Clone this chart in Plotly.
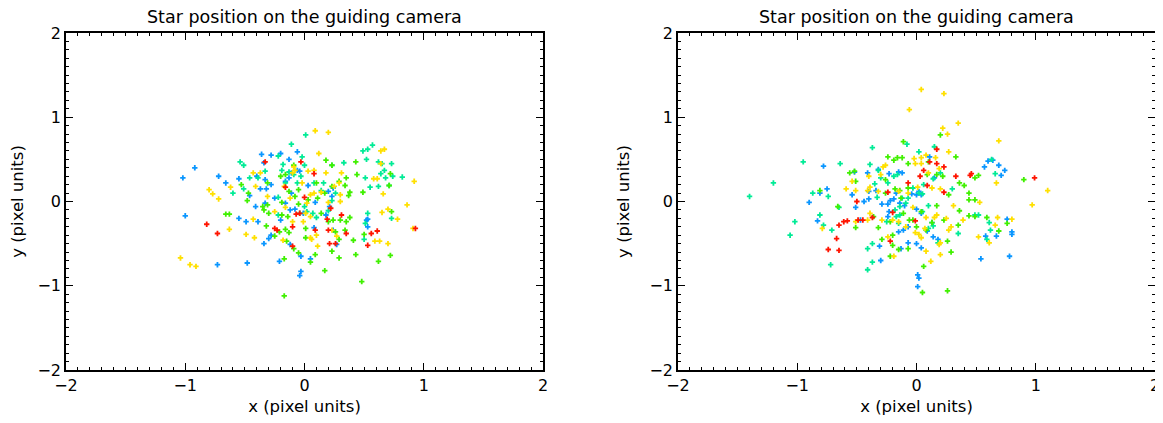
import plotly.graph_objects as go

TITLE = "Star position on the guiding camera"
X_LABEL = "x (pixel units)"
Y_LABEL = "y (pixel units)"
TICK_VALS = [-2, -1, 0, 1, 2]
TICK_TEXT = ["\u22122", "\u22121", "0", "1", "2"]

COLOR_NAMES = ["blue", "teal", "green", "yellow", "red"]
COLORS = {"blue": "#0a96ff", "teal": "#00eb96", "green": "#40f000", "yellow": "#ffe000", "red": "#ff1400"}

# ---------------- left panel ----------------
L_blue_x = [-0.92, -1.02, -1.00, -0.72, -0.66, -0.73, -0.48, -0.36, -0.28, -0.20, -0.13, -0.06, -0.34, -0.40, -0.55,
            -0.46, -0.37, -0.33, -0.32, -0.28, -0.25, -0.33, -0.41, -0.55, -0.49, -0.39, -0.34, -0.30, -0.28, -0.21,
            -0.20, -0.16, -0.16, -0.13, -0.11, -0.06, -0.04, -0.12, -0.08, -0.01, 0.03, -0.03, -0.03, -0.04, 0.05,
            -0.12, 0.08, 0.09, 0.18, 0.20, 0.23, 0.24, 0.21, 0.24, 0.27, 0.52, 0.53, 0.53, -0.11]
L_blue_y = [0.40, 0.28, -0.17, 0.30, 0.22, -0.75, -0.73, 0.56, 0.55, 0.57, 0.50, 0.59, 0.46, 0.30, 0.27,
            0.07, 0.15, 0.26, 0.15, 0.20, 0.04, -0.02, -0.06, -0.20, -0.24, -0.24, -0.50, -0.44, -0.40, -0.71,
            -0.22, -0.02, 0.24, 0.28, 0.34, 0.37, 0.36, -0.10, -0.09, -0.14, 0.19, -0.65, -0.83, -0.88, -0.68,
            -0.51, -0.31, -0.01, -0.16, 0.12, 0.06, 0.16, -0.06, -0.34, -0.51, -0.22, -0.30, -0.21, 0.10]

L_teal_x = [0.01, -0.11, 0.57, 0.53, 0.49, 0.52, 0.62, 0.65, 0.73, 0.67, 0.64, 0.74, 0.82, 0.51, 0.55,
            0.62, 0.71, 0.68, 0.33, 0.23, 0.16, 0.08, 0.26, 0.14, 0.23, -0.54, -0.51, -0.60, -0.51, -0.46,
            -0.39, -0.33, -0.22, -0.18, -0.19, -0.22, -0.13, -0.09, -0.16, -0.06, 0.00, -0.02, -0.03, 0.00, 0.02,
            0.07, 0.10, 0.20, -0.22, 0.53, 0.50, 0.51, 0.73, -0.04]
L_teal_y = [0.79, 0.68, 0.67, 0.62, 0.60, 0.50, 0.47, 0.45, 0.45, 0.37, 0.33, 0.30, 0.29, 0.28, 0.17,
            0.18, 0.19, 0.28, 0.46, 0.43, 0.22, 0.22, 0.10, 0.13, 0.01, 0.47, 0.43, 0.10, 0.15, 0.28,
            0.28, 0.36, 0.54, 0.44, 0.37, 0.05, 0.35, 0.32, 0.22, 0.22, 0.43, 0.53, 0.30, -0.06, -0.12,
            -0.14, -0.19, -0.11, -0.16, -0.14, -0.45, -0.26, -0.20, -0.14]

L_green_x = [0.43, 0.18, 0.23, 0.44, 0.72, 0.71, 0.49, 0.38, 0.37, 0.34, 0.35, 0.29, 0.10, 0.23, 0.17,
             0.03, 0.73, 0.38, 0.35, 0.34, 0.30, 0.24, 0.20, 0.29, 0.41, 0.50, 0.23, 0.29, 0.43, 0.62,
             0.72, 0.48, 0.17, 0.05, 0.09, 0.01, 0.01, -0.17, -0.17, -0.13, -0.16, -0.15, -0.09, -0.05, -0.21,
             -0.25, -0.32, -0.30, -0.34, -0.31, -0.35, -0.66, -0.63, -0.48, -0.47, -0.53, -0.31, -0.16, -0.20, -0.13,
             -0.19, -0.19, -0.14, -0.09, -0.05, -0.05, 0.14, 0.11, 0.26, -0.08]
L_green_y = [0.47, 0.49, 0.43, 0.32, 0.33, 0.19, 0.11, 0.11, 0.07, 0.19, 0.28, 0.24, 0.22, 0.18, 0.10,
             0.02, -0.12, -0.19, -0.24, -0.34, -0.22, -0.22, -0.24, -0.45, -0.46, -0.39, -0.59, -0.67, -0.63, -0.71,
             -0.64, -0.95, -0.82, -0.72, -0.63, -0.43, -0.32, -1.12, -0.68, -0.37, -0.33, -0.47, -0.56, -0.61, -0.36,
             -0.41, -0.29, -0.14, -0.10, -0.04, -0.06, -0.15, -0.15, 0.01, 0.10, 0.20, 0.22, 0.32, 0.30, 0.12,
             -0.01, -0.16, -0.18, 0.43, -0.03, 0.14, -0.14, 0.04, -0.36, 0.06]

L_yellow_x = [0.09, 0.20, 0.12, 0.64, 0.67, 0.64, 0.58, 0.61, 0.92, 0.66, 0.86, 0.91, 0.78, 0.70, 0.65,
              0.59, 0.63, 0.70, -1.04, -0.96, -0.91, -0.80, -0.77, -0.72, -0.62, -0.63, -0.49, -0.42, -0.43, -0.41,
              -0.43, -0.37, -0.31, -0.25, -0.17, -0.12, -0.16, -0.10, -0.09, -0.02, 0.02, 0.05, 0.08, 0.01, 0.05,
              -0.01, 0.05, 0.06, 0.10, 0.11, 0.14, 0.18, 0.25, 0.29, 0.30, 0.30, 0.31, 0.20, 0.27, 0.23,
              -0.18, -0.10, -0.08, 0.03, 0.08]
L_yellow_y = [0.84, 0.82, 0.57, 0.60, 0.62, 0.45, 0.27, 0.27, 0.24, 0.09, -0.04, -0.32, -0.21, -0.09, -0.13,
              -0.47, -0.47, -0.50, -0.67, -0.75, -0.77, 0.14, 0.09, 0.03, 0.17, -0.33, -0.39, -0.43, -0.21, 0.18,
              0.34, 0.34, 0.06, -0.12, 0.18, 0.04, -0.07, 0.34, 0.41, 0.22, -0.02, 0.08, 0.10, -0.14, -0.18,
              -0.24, -0.43, -0.45, -0.40, -0.53, 0.11, 0.34, 0.18, 0.22, 0.08, 0.00, 0.34, -0.01, -0.41, -0.34,
              -0.46, -0.24, 0.37, 0.36, 0.37]

L_red_x = [-0.03, -0.33, 0.08, -0.16, 0.00, 0.22, 0.19, 0.31, 0.20, 0.21, 0.26, 0.35, 0.56, 0.61, 0.53,
           0.93, -0.07, -0.04, -0.10, -0.10, 0.09, -0.23, -0.25, -0.82, -0.73]
L_red_y = [0.47, 0.47, 0.33, 0.17, 0.05, -0.08, -0.21, -0.16, -0.34, -0.50, -0.50, -0.38, -0.38, -0.35, -0.52,
           -0.32, -0.15, -0.14, -0.30, -0.53, -0.34, -0.34, -0.32, -0.27, -0.38]

# ---------------- right panel ----------------
R_blue_x = [-0.78, -0.75, -0.81, -0.90, -0.83, -0.51, -0.54, -0.44, -0.40, -0.40, -0.47, -0.52, -0.41, -0.32, -0.23,
            -0.15, -0.12, -0.17, -0.19, -0.22, -0.24, -0.29, -0.34, -0.14, -0.10, -0.04, 0.00, 0.04, 0.02, 0.11,
            0.15, 0.13, 0.09, 0.14, 0.18, 0.04, 0.00, -0.07, -0.11, -0.15, -0.07, 0.00, 0.04, -0.13, -0.23,
            -0.24, -0.30, -0.31, 0.01, 0.02, 0.01, 0.54, 0.58, 0.67, 0.80, 0.80, 0.76, 0.78, 0.60, 0.57,
            0.69, 0.74, 0.71, 0.64]
R_blue_y = [0.42, 0.15, 0.10, -0.01, -0.23, -0.07, 0.08, 0.00, 0.03, 0.12, -0.22, 0.35, 0.34, 0.38, 0.33,
            0.35, 0.34, 0.10, 0.03, 0.01, -0.03, -0.03, 0.13, -0.02, -0.05, 0.09, 0.08, 0.08, 0.12, 0.53,
            0.28, -0.25, -0.35, -0.42, -0.45, -0.14, -0.09, -0.30, -0.34, -0.36, -0.49, -0.50, -0.55, -0.56, -0.12,
            -0.18, -0.70, -0.53, -0.87, -0.91, -1.01, -0.68, -0.41, -0.41, -0.36, -0.39, -0.21, -0.65, 0.48, 0.41,
            0.43, 0.37, 0.31, 0.49]

R_teal_x = [-0.37, -0.95, -1.20, -1.40, -1.02, -1.06, -0.87, -0.81, -0.78, -0.74, -0.65, -0.64, -0.71, -0.72, -0.39,
            -0.32, -0.35, -0.30, -0.33, -0.37, -0.41, -0.41, -0.37, -0.16, -0.19, -0.08, 0.02, 0.15, 0.20, 0.14,
            -0.12, -0.03, 0.02, 0.06, 0.05, 0.10, -0.07, -0.09, -0.14, -0.18, -0.17, -0.14, -0.15, -0.25, 0.05,
            0.10, 0.14, 0.18, 0.35, 0.30, 0.49, 0.52, 0.61, 0.59, 0.62, 0.63, 0.66, -0.24]
R_teal_y = [0.64, 0.47, 0.22, 0.06, -0.24, -0.40, 0.10, -0.16, -0.28, 0.06, -0.07, 0.45, -0.34, -0.75, 0.44,
            0.37, 0.21, 0.28, 0.05, -0.50, -0.56, -0.81, -0.72, 0.32, 0.30, 0.68, 0.59, 0.65, 0.34, 0.27,
            0.04, 0.16, 0.10, 0.20, 0.09, -0.05, 0.04, -0.02, -0.06, -0.10, -0.18, -0.16, -0.26, -0.24, -0.12,
            -0.32, -0.29, -0.49, -0.38, 0.15, -0.16, -0.16, -0.25, -0.45, -0.34, 0.50, 0.33, 0.22]

R_green_x = [-0.11, 0.20, 0.33, 0.52, 0.49, 0.36, 0.40, 0.44, 0.44, 0.49, 0.90, 0.36, 0.44, 0.59, 0.69,
             0.76, 0.35, 0.26, 0.29, 0.26, 0.05, 0.06, 0.04, 0.13, 0.23, 0.17, 0.27, 0.22, 0.09, 0.17,
             0.10, -0.07, -0.16, -0.12, -0.24, -0.19, -0.26, -0.26, -0.14, -0.18, -0.07, -0.13, -0.51, -0.56, -0.52,
             -0.81, -0.66, -0.51, -0.32, -0.36, -0.29, -0.22, -0.20, -0.20, -0.22, -0.15, -0.07, -0.11, -0.06, -0.03,
             0.00, 0.08, 0.49]
R_green_y = [0.71, 0.79, 0.53, 0.31, 0.28, 0.22, 0.19, 0.10, 0.02, 0.02, 0.26, -0.11, -0.17, -0.19, -0.35,
             -0.26, -0.28, -0.47, -0.60, -1.06, -1.08, -0.77, -0.12, -0.25, -0.22, -0.05, 0.08, 0.30, 0.32, 0.32,
             0.47, 0.45, 0.52, 0.52, 0.53, 0.49, 0.26, 0.10, 0.13, 0.15, 0.16, 0.04, 0.24, 0.34, 0.36,
             0.13, -0.06, -0.31, -0.31, -0.18, -0.45, -0.24, -0.40, -0.52, -0.65, -0.57, -0.56, -0.14, -0.22, -0.22,
             -0.30, -0.34, -0.18]

R_yellow_x = [0.04, 0.23, -0.06, 0.35, 0.22, 0.26, 0.69, 0.27, 0.16, 0.08, 0.04, -0.02, -0.01, -0.26, -0.28,
              0.04, 0.19, 0.10, -0.30, -0.40, -0.54, -0.59, -0.51, -0.39, -0.41, -0.32, -0.15, -0.07, 0.01, 0.13,
              0.20, 0.67, 1.10, 0.97, 0.53, 0.31, 0.17, 0.39, 0.80, 0.68, 0.66, 0.61, 0.52, 0.20, 0.20,
              0.12, 0.08, 0.04, 0.02, -0.01, 0.07, 0.08, 0.15, 0.25, 0.29, 0.27, -0.09, -0.15, -0.20, -0.24,
              -0.19, -0.29, -0.39, -0.41, -0.51, -0.79, 0.19, -0.03]
R_yellow_y = [1.33, 1.28, 1.09, 0.93, 0.87, 0.80, 0.72, 0.59, 0.52, 0.55, 0.52, 0.51, 0.45, 0.43, 0.41,
              0.45, 0.39, 0.34, 0.32, 0.30, 0.24, 0.15, 0.13, 0.17, 0.13, 0.12, 0.12, 0.10, 0.17, 0.16,
              0.15, 0.22, 0.13, -0.04, -0.01, -0.05, -0.16, -0.22, -0.21, -0.19, -0.28, -0.49, -0.42, -0.49, -0.63,
              -0.71, -0.59, -0.43, -0.39, -0.37, -0.32, -0.19, -0.19, -0.20, -0.30, -0.34, -0.30, -0.24, -0.22, -0.42,
              -0.65, -0.22, -0.14, -0.22, -0.24, -0.32, -0.51, -0.07]

R_red_x = [0.17, 0.11, 0.17, 0.23, 0.06, 0.03, -0.07, 0.09, 0.23, 0.33, 0.45, 0.46, 0.99, -0.24, -0.50,
           -0.37, -0.45, -0.49, -0.58, -0.61, -0.65, -0.67, -0.74, -0.65, -0.20, -0.01, -0.22]
R_red_y = [0.62, 0.47, 0.45, 0.41, 0.37, 0.30, 0.22, 0.19, 0.11, 0.30, 0.31, 0.33, 0.28, 0.11, 0.00,
           -0.19, -0.22, -0.22, -0.23, -0.24, -0.28, -0.44, -0.57, -0.58, -0.13, -0.23, -0.47]

LEFT = {"blue": (L_blue_x, L_blue_y), "teal": (L_teal_x, L_teal_y), "green": (L_green_x, L_green_y),
        "yellow": (L_yellow_x, L_yellow_y), "red": (L_red_x, L_red_y)}
RIGHT = {"blue": (R_blue_x, R_blue_y), "teal": (R_teal_x, R_teal_y), "green": (R_green_x, R_green_y),
         "yellow": (R_yellow_x, R_yellow_y), "red": (R_red_x, R_red_y)}

fig = go.Figure()
for panel, (xa, ya) in ((LEFT, ("x", "y")), (RIGHT, ("x2", "y2"))):
    for name in COLOR_NAMES:
        xs, ys = panel[name]
        fig.add_trace(go.Scatter(
            x=xs, y=ys, mode="markers", xaxis=xa, yaxis=ya, showlegend=False,
            marker=dict(symbol="cross", size=4.5, color=COLORS[name], line=dict(width=0)),
        ))

FONT = "DejaVu Sans"
axis_common = dict(
    range=[-2, 2], tickvals=TICK_VALS, ticktext=TICK_TEXT, ticks="inside", ticklen=7, tickwidth=1,
    tickcolor="black", showline=True, linecolor="black", linewidth=1.5, mirror="allticks",
    showgrid=False, zeroline=False, tickfont=dict(family=FONT, size=16, color="black"),
    minor=dict(ticks="inside", dtick=0.1, ticklen=3, tickcolor="black", tickwidth=1, showgrid=False),
    fixedrange=True, automargin=False,
)
title_font = dict(family=FONT, size=16.5, color="black")

# page body has an 8px margin, so the figure starts at (8, 8) in the window
W, H, OFF = 1155, 415, 8
y_dom = [1 - (370 - OFF) / H, 1 - (33 - OFF) / H]
x1_dom = [(66 - OFF) / W, (543 - OFF) / W]
x2_dom = [(678 - OFF) / W, (1155 - OFF) / W]

fig.update_layout(
    width=W, height=H, margin=dict(l=0, r=0, t=0, b=0, autoexpand=False),
    paper_bgcolor="white", plot_bgcolor="white",
    xaxis=dict(domain=x1_dom, anchor="y", title=dict(text=X_LABEL, font=title_font, standoff=6), **axis_common),
    yaxis=dict(domain=y_dom, anchor="x", title=dict(text=Y_LABEL, font=title_font, standoff=16), **axis_common),
    xaxis2=dict(domain=x2_dom, anchor="y2", title=dict(text=X_LABEL, font=title_font, standoff=6), **axis_common),
    yaxis2=dict(domain=y_dom, anchor="x2", title=dict(text=Y_LABEL, font=title_font, standoff=16), **axis_common),
)

for dom in (x1_dom, x2_dom):
    fig.add_annotation(text=TITLE, x=(dom[0] + dom[1]) / 2, y=1 - (17 - OFF) / H, xref="paper", yref="paper",
                       showarrow=False, xanchor="center", yanchor="middle",
                       font=dict(family=FONT, size=17.5, color="black"))

fig.write_html("out.html")
